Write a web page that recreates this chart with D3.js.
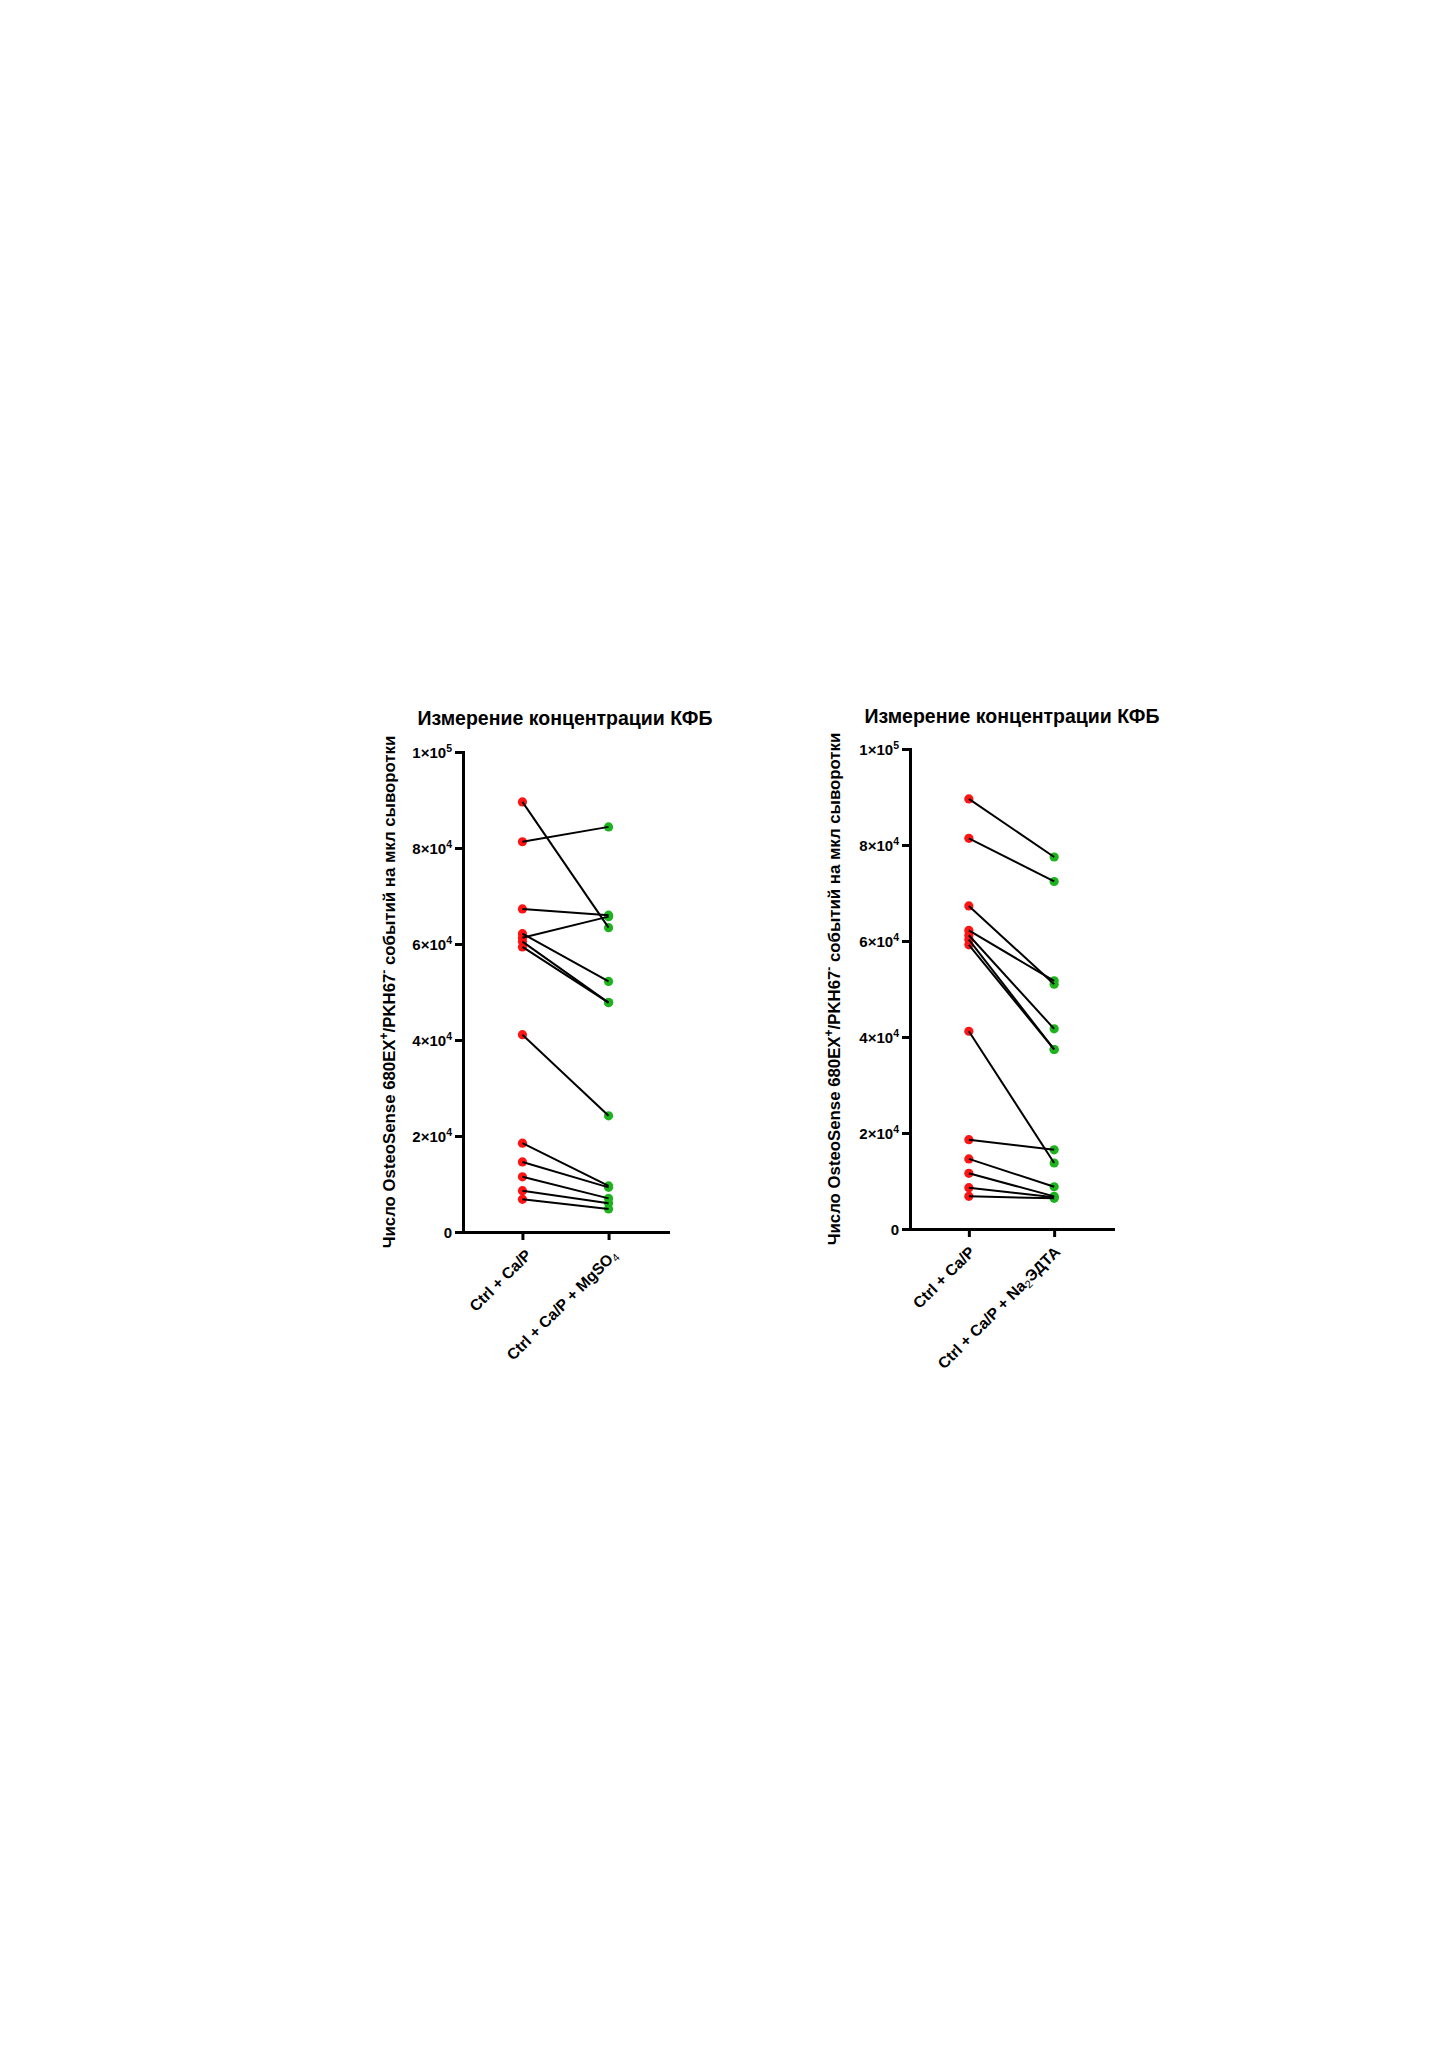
<!DOCTYPE html>
<html><head><meta charset="utf-8">
<script src="https://cdn.jsdelivr.net/npm/d3@7"></script>
<style>
body{margin:0;background:#fff}
svg{display:block}
text{font-family:"Liberation Sans",Arial,Helvetica,sans-serif;font-weight:bold;fill:#000}
</style>
</head><body><svg id="c" width="1449" height="2050"></svg>
<script>
// ---------- data ----------
const titleText = "Измерение концентрации КФБ";
const categoriesLeft = ["Ctrl + Ca/P", "Ctrl + Ca/P + MgSO4"];
const categoriesRight = ["Ctrl + Ca/P", "Ctrl + Ca/P + Na2ЭДТА"];
// label parts: [main text, subscript, trailing text]
const categoryPartsLeft = [["Ctrl + Ca/P", "", ""], ["Ctrl + Ca/P + MgSO", "4", ""]];
const categoryPartsRight = [["Ctrl + Ca/P", "", ""], ["Ctrl + Ca/P + Na", "2", "ЭДТА"]];

const ctrlLeft  = [89600, 81300, 67300, 62150, 61300, 60500, 59400, 41100, 18500, 14600, 11500, 8600, 6800];
const mgso4Left = [63400, 84400, 66000, 52200, 65700, 47800, 47800, 24200, 9600, 9300, 7000, 6000, 4800];

const ctrlRight = [89600, 81400, 67300, 62200, 61200, 60300, 59200, 41200, 18600, 14600, 11600, 8600, 6800];
const edtaRight = [77500, 72400, 51000, 51700, 41700, 37400, 37400, 13750, 16500, 8800, 6800, 6600, 6400];

const yTickValues   = [0, 20000, 40000, 60000, 80000, 100000];
const yTickMantissa = ["0", "2", "4", "6", "8", "1"];
const yTickExponent = ["", "4", "4", "4", "4", "5"];

const yLabelParts = ["Число OsteoSense 680EX", "+", "/PKH67", "-", " событий на мкл сыворотки"];

// ---------- drawing ----------
const svg = d3.select("#c");
svg.append("rect").attr("width", 1449).attr("height", 2050).attr("fill", "#fff");

function drawPanel(cfg) {
  const g = svg.append("g");
  const x = d3.scalePoint().domain(cfg.cats).range([cfg.x0, cfg.x1]).padding(0.69);
  const y = d3.scaleLinear().domain([0, 100000]).range([cfg.yb, cfg.yt]);

  const ya = g.append("g").attr("transform", `translate(${cfg.x0},0)`)
    .call(d3.axisLeft(y).tickValues(yTickValues).tickSize(8).tickSizeOuter(0).tickFormat(""));
  const xa = g.append("g").attr("transform", `translate(0,${cfg.yb})`)
    .call(d3.axisBottom(x).tickSize(8).tickSizeOuter(0).tickFormat(""));

  [ya, xa].forEach(a => {
    a.select(".domain").attr("stroke", "#000").attr("stroke-width", 3).attr("stroke-linecap", "square");
    a.selectAll(".tick line").attr("stroke", "#000").attr("stroke-width", 3);
  });

  ya.selectAll(".tick text").each(function(d) {
    const i = yTickValues.indexOf(d);
    const t = d3.select(this).text(null)
      .attr("x", -11).attr("dy", "0.34em").attr("font-size", 15)
      .attr("text-anchor", "end").attr("fill", "#000");
    if (yTickExponent[i]) {
      t.append("tspan").text(yTickMantissa[i] + "×10");
      t.append("tspan").attr("font-size", 10.5).attr("dy", -6).text(yTickExponent[i]);
    } else {
      t.append("tspan").text(yTickMantissa[i]);
    }
  });

  xa.selectAll(".tick text").remove();
  cfg.cats.forEach((c, i) => {
    const parts = cfg.parts[i];
    const t = g.append("text")
      .attr("transform", `translate(${x(c) + cfg.lblDx},${cfg.yb + cfg.lblDy}) rotate(-45)`)
      .attr("text-anchor", "end").attr("font-size", 15.7);
    t.append("tspan").text(parts[0]);
    if (parts[1]) {
      t.append("tspan").attr("font-size", 11).attr("font-weight", "normal").attr("dy", 3).text(parts[1]);
    }
    if (parts[2]) {
      t.append("tspan").attr("dy", -3).text(parts[2]);
    }
  });

  const pairs = cfg.a.map((v, i) => ({a: v, b: cfg.b[i]}));
  g.append("g").selectAll("circle").data(pairs).join("circle")
    .attr("cx", x(cfg.cats[0])).attr("cy", d => y(d.a)).attr("r", 4.6).attr("fill", "#ff1414");
  g.append("g").selectAll("circle").data(pairs).join("circle")
    .attr("cx", x(cfg.cats[1])).attr("cy", d => y(d.b)).attr("r", 4.6).attr("fill", "#1db31d");
  g.append("g").selectAll("line").data(pairs).join("line")
    .attr("x1", x(cfg.cats[0])).attr("y1", d => y(d.a))
    .attr("x2", x(cfg.cats[1])).attr("y2", d => y(d.b))
    .attr("stroke", "#000").attr("stroke-width", 2);

  g.append("text").attr("x", cfg.titleX).attr("y", cfg.titleY)
    .attr("text-anchor", "middle").attr("font-size", 19.5).text(titleText);

  const yl = g.append("text")
    .attr("transform", `translate(${cfg.ylabX},${(cfg.yt + cfg.yb) / 2}) rotate(-90)`)
    .attr("text-anchor", "middle").attr("font-size", 16.8);
  yl.append("tspan").text(yLabelParts[0]);
  yl.append("tspan").attr("font-size", 12).attr("dy", -7).text(yLabelParts[1]);
  yl.append("tspan").attr("dy", 7).text(yLabelParts[2]);
  yl.append("tspan").attr("font-size", 12).attr("dy", -7).text(yLabelParts[3]);
  yl.append("tspan").attr("dy", 7).text(yLabelParts[4]);
}

drawPanel({
  cats: categoriesLeft, parts: categoryPartsLeft, a: ctrlLeft, b: mgso4Left,
  x0: 463, x1: 668, yt: 752, yb: 1232, lblDx: 10, lblDy: 24,
  titleX: 565, titleY: 725, ylabX: 395
});
drawPanel({
  cats: categoriesRight, parts: categoryPartsRight, a: ctrlRight, b: edtaRight,
  x0: 910, x1: 1113, yt: 749, yb: 1229, lblDx: 7, lblDy: 24,
  titleX: 1012, titleY: 723, ylabX: 840
});
</script>
</body></html>
